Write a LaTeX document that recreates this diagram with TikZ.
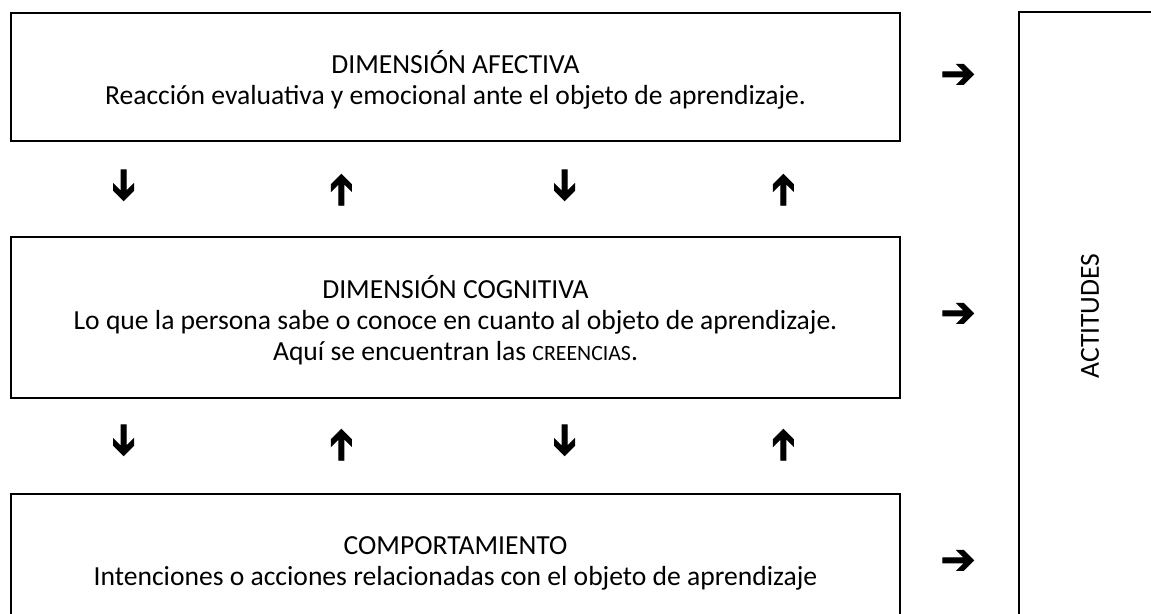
\documentclass[tikz,border=0pt]{standalone}
\usepackage{fontspec}
\setmainfont{Carlito}
\newfontfamily\arrowfont{DejaVu Sans}[FakeBold=2.2]
\usetikzlibrary{positioning}
\newcommand{\dimtext}{\fontsize{15.7}{17.6}\selectfont}
\newcommand{\smallcaps}[1]{{\fontsize{12.4}{17.6}\selectfont #1}}
\newcommand{\toppad}{\rule{0pt}{0.57cm}}
\tikzset{
  dimbox/.style={draw, line width=1.1pt, minimum width=17.78cm, align=center,
                 font=\dimtext, inner sep=0pt},
  sidebox/.style={draw, line width=1.1pt, rotate=90, font=\dimtext,
                  minimum width=12.16cm, minimum height=2.84cm, inner sep=0pt},
  glyph/.style={font=\arrowfont\fontsize{24}{24}\selectfont, inner sep=0pt},
}

\begin{document}
\begin{tikzpicture}
  \useasboundingbox (0,0) rectangle (23.02,-12.26);

  % the three dimensions
  \node[dimbox, minimum height=2.56cm] (afect) at (9.11,-1.54)
    {\toppad DIMENSIÓN AFECTIVA\\Reacción evaluativa y emocional ante el objeto de aprendizaje.};
  \node[dimbox, minimum height=3.22cm, below=1.88cm of afect] (cognit)
    {\toppad DIMENSIÓN COGNITIVA\\Lo que la persona sabe o conoce en cuanto al objeto de aprendizaje.\\
     Aquí se encuentran las \smallcaps{CREENCIAS}.};
  \node[dimbox, minimum height=2.56cm, below=1.88cm of cognit] (comport)
    {\toppad COMPORTAMIENTO\\Intenciones o acciones relacionadas con el objeto de aprendizaje};

  \node[sidebox] (actit) at (21.8,-6.32) {ACTITUDES};

  % arrows between the boxes
  \node[glyph, rotate=-90] (dnA) at (2.44,-3.70) {➔};
  \node[glyph, rotate=90]  (upA) at (6.86,-3.80) {➔};
  \node[glyph, rotate=-90] (dnB) at (11.26,-3.70) {➔};
  \node[glyph, rotate=90]  (upB) at (15.70,-3.80) {➔};
  \node[glyph, rotate=-90] (dnC) at (2.44,-8.80) {➔};
  \node[glyph, rotate=90]  (upC) at (6.86,-8.90) {➔};
  \node[glyph, rotate=-90] (dnD) at (11.26,-8.80) {➔};
  \node[glyph, rotate=90]  (upD) at (15.70,-8.90) {➔};

  % towards the attitudes
  \node[glyph] (toA) at (19.16,-1.52) {➔};
  \node[glyph] (toC) at (19.16,-6.30) {➔};
  \node[glyph] (toB) at (19.16,-11.24) {➔};
\end{tikzpicture}
\end{document}
